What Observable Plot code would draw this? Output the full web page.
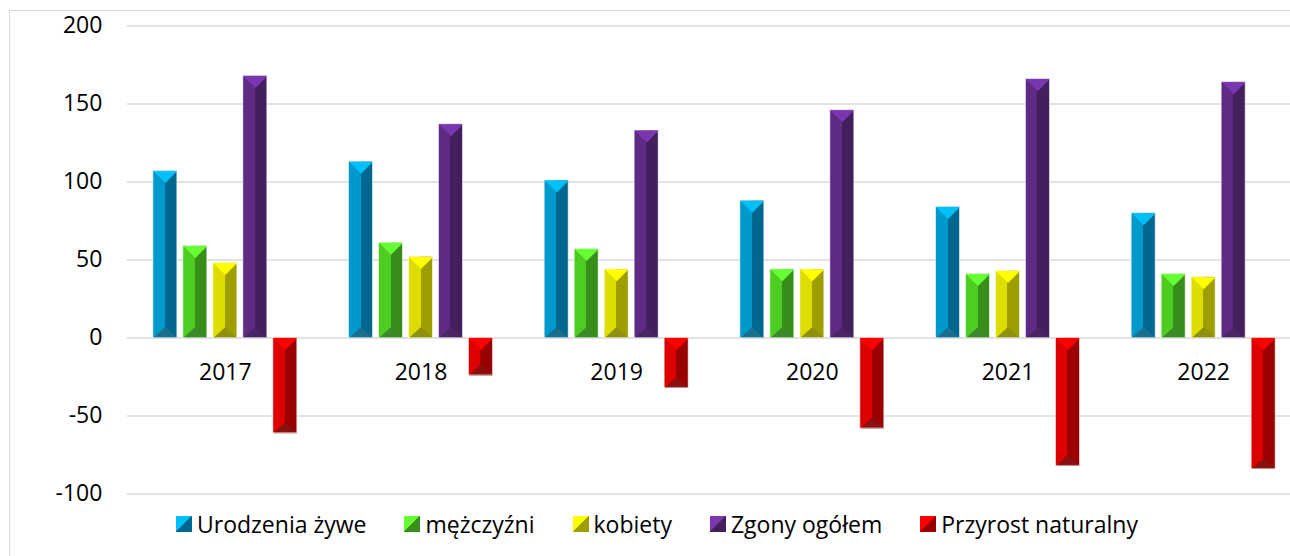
<!DOCTYPE html>
<html>
<head>
<meta charset="utf-8">
<script src="https://cdn.jsdelivr.net/npm/d3@7"></script>
<script src="https://cdn.jsdelivr.net/npm/@observablehq/plot@0.6"></script>
<style>
html, body { margin: 0; padding: 0; background: #fff; overflow: hidden; }
#wrap { position: relative; width: 1290px; height: 556px; font-family: "Open Sans", sans-serif; color: #000; }
#frame { position: absolute; left: 9px; top: 10px; width: 1400px; height: 700px; border-left: 1px solid #d9d9d9; border-top: 1px solid #d9d9d9; box-sizing: border-box; }
#chart { position: absolute; left: 0; top: 0; }
#legend { position: absolute; left: 176px; top: 511px; display: flex; align-items: center; gap: 38px; font-size: 23px; line-height: 26px; white-space: nowrap; }
.item { display: flex; align-items: center; gap: 5px; }
.sw { width: 16px; height: 16px; display: inline-block; }
</style>
</head>
<body>
<div id="wrap">
  <div id="frame"></div>
  <div id="chart"></div>
  <div id="legend"></div>
</div>
<script>
// ---- data ----
const years = ["2017", "2018", "2019", "2020", "2021", "2022"];
const seriesNames = ["Urodzenia żywe", "mężczyźni", "kobiety", "Zgony ogółem", "Przyrost naturalny"];
const urodzeniaZywe = [107, 113, 101, 88, 84, 80];
const mezczyzni = [59, 61, 57, 44, 41, 41];
const kobiety = [48, 52, 44, 44, 43, 39];
const zgonyOgolem = [168, 137, 133, 146, 166, 164];
const przyrostNaturalny = [-61, -24, -32, -58, -82, -84];
const yTicks = [-100, -50, 0, 50, 100, 150, 200];

// ---- styles ----
const leftColors = ["#0099cc", "#4dcc22", "#dddd00", "#5e2a84", "#dd0000"];
const rightColors = ["#006890", "#388e1a", "#9e9e00", "#431f5e", "#9a0000"];
const topColors = ["#00c0f8", "#66ff33", "#ffff00", "#7a35b0", "#ff0000"];
const bottomColors = ["#1a6e8e", "#3a8a2a", "#8f8f10", "#4b2466", "#8a1010"];

const seriesValues = [urodzeniaZywe, mezczyzni, kobiety, zgonyOgolem, przyrostNaturalny];
const rows = years.flatMap((yr, i) => seriesNames.map((s, j) => ({ year: yr, series: s, si: j, value: seriesValues[j][i] })));
const gridRows = years.flatMap(yr => yTicks.map(t => ({ year: yr, tick: t })));

const capTop = { draw(ctx) { ctx.moveTo(-12, 0); ctx.lineTo(12, 0); ctx.lineTo(0, 12); ctx.closePath(); } };
const capBottom = { draw(ctx) { ctx.moveTo(-12, 0); ctx.lineTo(12, 0); ctx.lineTo(0, -11); ctx.closePath(); } };

const svg = Plot.plot({
  width: 1290,
  height: 556,
  marginLeft: 127,
  marginRight: -11,
  marginTop: 25.5,
  marginBottom: 62.5,
  style: { fontFamily: "Open Sans, sans-serif", fontSize: "23px", color: "#000", background: "transparent", overflow: "visible" },
  color: { type: "identity" },
  fx: { domain: years, paddingInner: 0.2335, paddingOuter: 0.11675, round: false, axis: null, label: null },
  x: { domain: seriesNames, paddingInner: 0.2, paddingOuter: 0.1, round: false, axis: null, label: null },
  y: { domain: [-100, 200], label: null },
  marks: [
    Plot.ruleY(gridRows, { fx: "year", y: "tick", insetLeft: -23, insetRight: -23, stroke: "#d9d9d9", strokeWidth: 1.5 }),
    Plot.axisY(yTicks, { tickSize: 0, tickPadding: 48, fontSize: 23, fill: "#000", label: null, tickFormat: d => String(d) }),
    Plot.barY(rows, { fx: "year", x: "series", y: "value", fill: d => `url(#grad${d.si})` }),
    Plot.dot(rows, { fx: "year", x: "series", y: d => Math.max(d.value, 0), symbol: capTop, fill: d => topColors[d.si], stroke: "none" }),
    Plot.dot(rows, { fx: "year", x: "series", y: d => Math.min(d.value, 0), symbol: capBottom, fill: d => bottomColors[d.si], stroke: "none" }),
    Plot.barY(rows, { fx: "year", x: "series", y: "value", fill: "none", stroke: "#ffffff", strokeOpacity: 0.55, strokeWidth: 1 }),
    Plot.text(years, { fx: d => d, y: d => 0, text: d => d, dy: 35, fontSize: 23, fill: "#000" })
  ]
});

const defs = d3.select(svg).insert("defs", ":first-child");
leftColors.forEach((c, i) => {
  const g = defs.append("linearGradient").attr("id", "grad" + i)
    .attr("x1", "0").attr("x2", "1").attr("y1", "0").attr("y2", "0");
  g.append("stop").attr("offset", "0.5").attr("stop-color", c);
  g.append("stop").attr("offset", "0.5").attr("stop-color", rightColors[i]);
});
document.getElementById("chart").appendChild(svg);

const legend = d3.select("#legend");
seriesNames.forEach((s, i) => {
  const it = legend.append("div").attr("class", "item");
  it.append("span").attr("class", "sw")
    .style("background", `linear-gradient(to bottom right, ${topColors[i]} 50%, ${rightColors[i]} 50%)`);
  it.append("span").text(s);
});
</script>
</body>
</html>
